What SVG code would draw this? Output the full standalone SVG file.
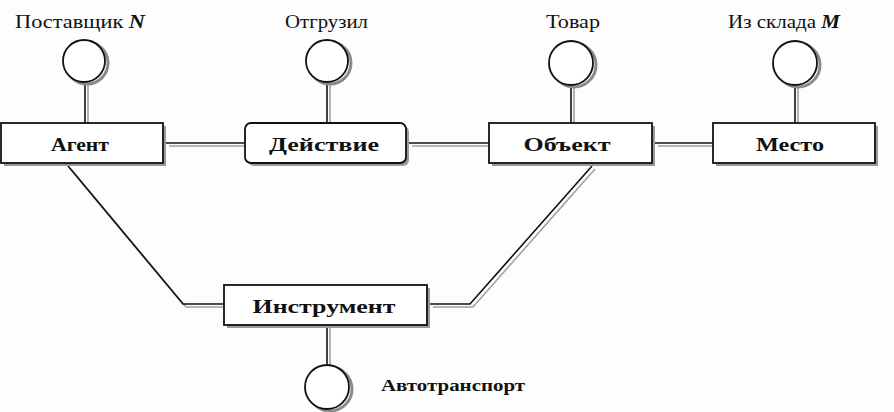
<svg xmlns="http://www.w3.org/2000/svg" width="894" height="412" viewBox="0 0 894 412">
<style>
.bg{fill:#fdfdfd}
.box{fill:#fff;stroke:#111;stroke-width:1.8}
.bsh{fill:#9a9a9a}
.circ{fill:#fff;stroke:#111;stroke-width:1.8}
.csh{fill:none;stroke:#8a8a8a;stroke-width:3}
.ln{fill:none;stroke:#111;stroke-width:1.6}
.sh{fill:none;stroke:#a0a0a0;stroke-width:1.6}
.lbl{font-family:"Liberation Serif",serif;font-size:18px;fill:#111}
.bl{font-family:"Liberation Serif",serif;font-size:19px;font-weight:bold;fill:#111;text-anchor:middle}
.it{font-style:italic;font-weight:bold}
.blbl{font-weight:bold;font-size:17px}
</style>
<rect class="bg" x="0" y="0" width="894" height="412"/>
<g id="connectors">
  <g transform="translate(3,3)">
    <path class="sh" d="M85 82V123"/>
    <path class="sh" d="M327 82V123"/>
    <path class="sh" d="M571 84V123"/>
    <path class="sh" d="M795 84V123"/>
    <path class="sh" d="M327 325V365"/>
    <path class="sh" d="M166 143H245"/>
    <path class="sh" d="M409 143H489"/>
    <path class="sh" d="M655 143H713"/>
    <path class="sh" d="M68 166L183 304H224"/>
    <path class="sh" d="M592 166L470 304H430"/>
  </g>
  <path class="ln" d="M85 82V123"/>
  <path class="ln" d="M327 82V123"/>
  <path class="ln" d="M571 84V123"/>
  <path class="ln" d="M795 84V123"/>
  <path class="ln" d="M327 325V365"/>
  <path class="ln" d="M166 143H245"/>
  <path class="ln" d="M409 143H489"/>
  <path class="ln" d="M655 143H713"/>
  <path class="ln" d="M68 166L183 304H224"/>
  <path class="ln" d="M592 166L470 304H430"/>
</g>
<g id="node-agent">
  <rect class="bsh" x="4" y="126" width="162" height="40"/>
  <rect class="box" x="1" y="123" width="162" height="40"/>
  <text class="bl" x="80" y="151" textLength="58" lengthAdjust="spacingAndGlyphs">Агент</text>
</g>
<g id="node-action">
  <rect class="bsh" x="248" y="126" width="161" height="40" rx="6"/>
  <rect class="box" x="245" y="123" width="161" height="40" rx="6"/>
  <text class="bl" x="324" y="151" textLength="110" lengthAdjust="spacingAndGlyphs">Действие</text>
</g>
<g id="node-object">
  <rect class="bsh" x="492" y="126" width="163" height="40"/>
  <rect class="box" x="489" y="123" width="163" height="40"/>
  <text class="bl" x="567" y="151" textLength="87" lengthAdjust="spacingAndGlyphs">Объект</text>
</g>
<g id="node-place">
  <rect class="bsh" x="716" y="126" width="162" height="40"/>
  <rect class="box" x="713" y="123" width="162" height="40"/>
  <text class="bl" x="790" y="151" textLength="68" lengthAdjust="spacingAndGlyphs">Место</text>
</g>
<g id="node-tool">
  <rect class="bsh" x="227" y="288" width="203" height="40"/>
  <rect class="box" x="224" y="285" width="203" height="40"/>
  <text class="bl" x="324" y="313" textLength="143" lengthAdjust="spacingAndGlyphs">Инструмент</text>
</g>
<g id="node-supplier">
  <circle class="csh" cx="87" cy="63" r="21"/>
  <circle class="circ" cx="84" cy="61" r="21"/>
  <text class="lbl" x="15" y="28" textLength="130" lengthAdjust="spacingAndGlyphs">Поставщик <tspan class="it">N</tspan></text>
</g>
<g id="node-shipped">
  <circle class="csh" cx="330" cy="63" r="21"/>
  <circle class="circ" cx="327" cy="61" r="21"/>
  <text class="lbl" x="285" y="28" textLength="83" lengthAdjust="spacingAndGlyphs">Отгрузил</text>
</g>
<g id="node-goods">
  <circle class="csh" cx="574" cy="65" r="22"/>
  <circle class="circ" cx="571" cy="63" r="22"/>
  <text class="lbl" x="546" y="28" textLength="54" lengthAdjust="spacingAndGlyphs">Товар</text>
</g>
<g id="node-warehouse">
  <circle class="csh" cx="798" cy="65" r="22"/>
  <circle class="circ" cx="795" cy="63" r="22"/>
  <text class="lbl" x="728" y="28" textLength="112" lengthAdjust="spacingAndGlyphs">Из склада <tspan class="it">M</tspan></text>
</g>
<g id="node-transport">
  <circle class="csh" cx="330" cy="389" r="22"/>
  <circle class="circ" cx="327" cy="387" r="22"/>
  <text class="lbl blbl" x="381" y="391" textLength="144" lengthAdjust="spacingAndGlyphs">Автотранспорт</text>
</g>
</svg>
